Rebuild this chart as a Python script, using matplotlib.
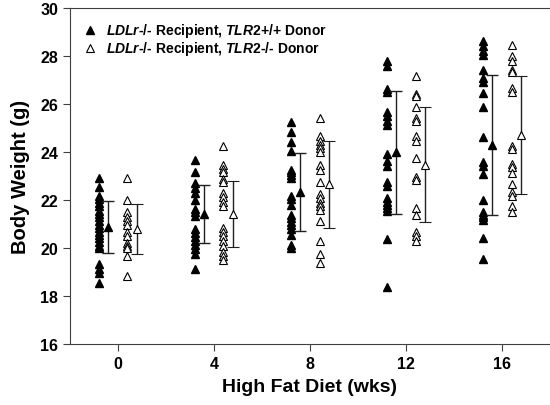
import matplotlib
matplotlib.use("Agg")
import matplotlib.pyplot as plt

# weeks on high fat diet
weeks = [0, 4, 8, 12, 16]

# LDLr-/- recipient, TLR2+/+ donor (filled)
wt_wk0 = [22.92, 22.55, 22.2, 22.06, 21.9, 21.75, 21.57, 21.43, 21.3, 21.15, 20.97,
          20.83, 20.7, 20.56, 20.42, 20.28, 20.11, 20.0, 19.35, 19.14, 18.97, 18.55]
wt_wk4 = [23.69, 23.19, 22.72, 22.5, 22.3, 22.03, 21.64, 21.5, 21.33, 20.8, 20.64,
          20.46, 20.32, 20.14, 19.97, 19.76, 19.14]
wt_wk8 = [25.27, 24.86, 24.44, 24.04, 23.28, 23.17, 23.05, 22.92, 22.19, 22.05, 21.8,
          21.39, 21.25, 21.11, 20.97, 20.8, 20.55, 20.14, 20.0]
wt_wk12 = [27.82, 27.58, 26.64, 26.5, 25.69, 25.5, 25.32, 25.14, 23.93, 23.65, 23.44,
           22.78, 22.61, 22.08, 21.94, 21.8, 21.67, 21.57, 20.39, 18.38]
wt_wk16 = [28.65, 28.44, 28.23, 28.05, 27.44, 27.08, 26.92, 26.47, 25.87, 24.63, 23.61,
           23.44, 23.1, 22.03, 21.5, 21.39, 21.3, 21.2, 20.42, 19.55]
wt_mean = [20.88, 21.43, 22.35, 24.0, 24.3]
wt_sd = [1.08, 1.21, 1.62, 2.57, 2.92]

# LDLr-/- recipient, TLR2-/- donor (open)
ko_wk0 = [22.92, 22.03, 21.5, 21.32, 21.15, 20.97, 20.67, 20.5, 20.21, 20.08, 20.0,
          19.67, 18.86]
ko_wk4 = [24.28, 23.47, 23.3, 23.17, 22.89, 22.75, 22.3, 22.12, 21.94, 21.77, 20.83,
          20.67, 20.5, 20.3, 20.08, 19.86, 19.67, 19.53]
ko_wk8 = [25.42, 24.67, 24.48, 24.3, 24.17, 24.0, 23.47, 23.28, 22.78, 22.26, 22.08,
          21.89, 21.75, 21.61, 21.15, 20.32, 19.76, 19.39]
ko_wk12 = [27.17, 26.43, 26.33, 25.87, 25.42, 25.32, 24.67, 24.48, 23.75, 22.96, 22.86,
           21.67, 21.39, 20.67, 20.52, 20.32]
ko_wk16 = [28.47, 28.0, 27.82, 27.44, 27.33, 26.67, 26.53, 24.28, 24.14, 23.51, 23.38,
           23.14, 22.68, 22.36, 22.19, 21.77, 21.5]
ko_mean = [20.8, 21.43, 22.67, 23.48, 24.73]
ko_sd = [1.05, 1.39, 1.82, 2.4, 2.47]

wt_label = r"$\mathit{LDLr}$-/- Recipient, $\mathit{TLR2}$+/+ Donor"
ko_label = r"$\mathit{LDLr}$-/- Recipient, $\mathit{TLR2}$-/- Donor"


def main():
    plt.rcParams['font.family'] = 'Liberation Sans'
    plt.rcParams['font.weight'] = 'bold'
    plt.rcParams['mathtext.fontset'] = 'custom'
    plt.rcParams['mathtext.it'] = 'Liberation Sans:italic:bold'
    plt.rcParams['mathtext.rm'] = 'Liberation Sans:bold'

    wt_pts = [wt_wk0, wt_wk4, wt_wk8, wt_wk12, wt_wk16]
    ko_pts = [ko_wk0, ko_wk4, ko_wk8, ko_wk12, ko_wk16]

    fig = plt.figure(figsize=(5.5, 4.06), dpi=100)
    ax = fig.add_axes([0.127, 0.1495, 0.873, 0.8275])
    MS = 6
    EC = '#202020'

    for i, wk in enumerate(weeks):
        ax.plot([wk - 0.8] * len(wt_pts[i]), wt_pts[i], linestyle='none', marker='^',
                markersize=MS, color='black', label=wt_label if i == 0 else None)
        ax.plot([wk + 0.4] * len(ko_pts[i]), ko_pts[i], linestyle='none', marker='^',
                markersize=MS, markerfacecolor='white', markeredgecolor='black',
                markeredgewidth=0.8, label=ko_label if i == 0 else None)
        ax.errorbar(wk - 0.4, wt_mean[i], yerr=wt_sd[i], marker='^', markersize=MS,
                    color='black', ecolor=EC, elinewidth=1, capsize=4, capthick=1)
        ax.errorbar(wk + 0.8, ko_mean[i], yerr=ko_sd[i], marker='^', markersize=MS,
                    markerfacecolor='white', markeredgecolor='black', markeredgewidth=0.8,
                    ecolor=EC, elinewidth=1, capsize=4, capthick=1)

    ax.set_xlim(-2, 18)
    ax.set_ylim(16, 30)
    ax.set_xticks(weeks)
    ax.set_yticks(range(16, 31, 2))
    ax.tick_params(direction='out', length=5, labelsize=11.5, color='#404040')
    for lab in ax.get_xticklabels() + ax.get_yticklabels():
        lab.set_fontweight('bold')
    for side in ax.spines:
        ax.spines[side].set_color('#404040')
    ax.spines['right'].set_visible(False)
    ax.set_xlabel("High Fat Diet (wks)", fontsize=14, fontweight='bold', labelpad=5)
    ax.set_ylabel("Body Weight (g)", fontsize=14.5, fontweight='bold', labelpad=7)

    ax.legend(loc='upper left', frameon=False, fontsize=10, handletextpad=0.4,
              labelspacing=0.0, borderaxespad=0.3, handlelength=1.5,
              bbox_to_anchor=(0.0, 0.99))

    fig.savefig("out.png", dpi=100)
    plt.close(fig)


if __name__ == "__main__":
    main()
